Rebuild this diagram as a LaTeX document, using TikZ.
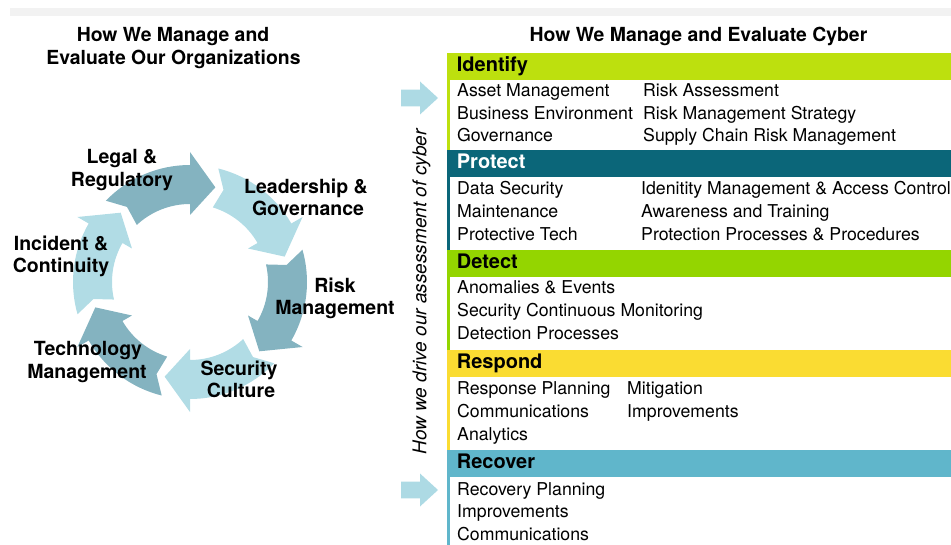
\documentclass[tikz,border=0pt]{standalone}
\usepackage{fontspec}
\setmainfont{TeX Gyre Heros}
\definecolor{ringdark}{HTML}{84B3C0}
\definecolor{ringlight}{HTML}{B1DCE5}
\definecolor{arrowblue}{HTML}{ADDAE4}
\definecolor{cIdentify}{HTML}{BDE00E}
\definecolor{cProtect}{HTML}{0B6679}
\definecolor{cDetect}{HTML}{94D500}
\definecolor{cRespond}{HTML}{FADC32}
\definecolor{cRecover}{HTML}{60B6CB}
\definecolor{bandgray}{HTML}{F2F2F2}
\begin{document}
\begin{tikzpicture}[x=1pt,y=-1pt,
  titletxt/.style={font=\fontsize{19.4}{23}\selectfont\bfseries, anchor=base, inner sep=0},
  ringlbl/.style={font=\fontsize{19.5}{23}\selectfont\bfseries, anchor=base, inner sep=0},
  hdr/.style={font=\fontsize{20}{24}\selectfont\bfseries, anchor=base west, inner sep=0},
  item/.style={font=\fontsize{17.7}{21}\selectfont, anchor=base west, inner sep=0},
  blockarrow/.style={fill=arrowblue}
]
\useasboundingbox (0,0) rectangle (951,545);
\fill[bandgray] (10,8.3) rectangle (951,15.7);

% titles
\node[titletxt] (lt1) at (173,42) {How We Manage and};
\node[titletxt] (lt2) at (173.5,65) {Evaluate Our Organizations};
\node[titletxt] (rt) at (698.5,42) {How We Manage and Evaluate Cyber};

% ring of arrows
\begin{scope}[shift={(190,282)}, yscale=-1]
\foreach \T/\c in {135/ringdark,75/ringlight,15/ringdark,-45/ringlight,-105/ringdark,-165/ringlight}{
  \pgfmathsetmacro\Ta{\T+1}
  \pgfmathsetmacro\Tb{\T-2}
  \pgfmathsetmacro\Tn{\T-5}
  \pgfmathsetmacro\H{\T-45}
  \pgfmathsetmacro\P{\T-60}
  \fill[\c] (\Ta:117) arc[start angle=\Ta, end angle=\H, radius=117] -- (\H:130) -- (\P:98) -- (\H:67) -- (\H:78) arc[start angle=\H, end angle=\Tb, radius=78] -- (\Tn:98) -- cycle;
}
\end{scope}

% ring labels
\node[ringlbl] (legal1) at (122,164) {Legal \&};
\node[ringlbl] (legal2) at (122,187) {Regulatory};
\node[ringlbl] (lead1) at (306,194) {Leadership \&};
\node[ringlbl] (lead2) at (308,216) {Governance};
\node[ringlbl] (risk1) at (335,293) {Risk};
\node[ringlbl] (risk2) at (335,315) {Management};
\node[ringlbl] (sec1) at (239,376) {Security};
\node[ringlbl] (sec2) at (241,398) {Culture};
\node[ringlbl] (tech1) at (88,356) {Technology};
\node[ringlbl] (tech2) at (87,378) {Management};
\node[ringlbl] (inc1) at (61,251) {Incident \&};
\node[ringlbl] (inc2) at (61,273) {Continuity};

% vertical text
\node[rotate=90, font=\fontsize{19}{22}\selectfont\itshape, inner sep=0] (vt) at (421.5,292) {How we drive our assessment of cyber};

% block arrows
\fill[blockarrow] (401,89.7) -- (420,89.7) -- (420,81.5) -- (438,98) -- (420,114.5) -- (420,106.3) -- (401,106.3) -- cycle;
\fill[blockarrow] (401,481.7) -- (420,481.7) -- (420,473.5) -- (438,490) -- (420,506.5) -- (420,498.3) -- (401,498.3) -- cycle;

% section bars and side lines
\fill[cIdentify] (447.3,53.3) rectangle (951,80);
\fill[cIdentify] (447.3,80) rectangle (450,150);
\fill[cProtect] (447.3,150) rectangle (951,176.7);
\fill[cProtect] (447.3,176.7) rectangle (450,250);
\fill[cDetect] (447.3,250) rectangle (951,276.7);
\fill[cDetect] (447.3,276.7) rectangle (450,350);
\fill[cRespond] (447.3,350) rectangle (951,376.7);
\fill[cRespond] (447.3,376.7) rectangle (450,450);
\fill[cRecover] (447.3,450) rectangle (951,476.7);
\fill[cRecover] (447.3,476.7) rectangle (450,545);

% Identify
\node[hdr] (hid) at (456.7,72) {Identify};
\node[item] (id1) at (457,97) {Asset Management};
\node[item] (id2) at (457,119.5) {Business Environment};
\node[item] (id3) at (457,142) {Governance};
\node[item] (id4) at (643,97) {Risk Assessment};
\node[item] (id5) at (643,119.5) {Risk Management Strategy};
\node[item] (id6) at (643,142) {Supply Chain Risk Management};

% Protect
\node[hdr, text=white] (hpr) at (456.7,168.7) {Protect};
\node[item] (pr1) at (457,195) {Data Security};
\node[item] (pr2) at (457,218) {Maintenance};
\node[item] (pr3) at (457,241) {Protective Tech};
\node[item] (pr4) at (641,195) {Idenitity Management \& Access Control};
\node[item] (pr5) at (641,218) {Awareness and Training};
\node[item] (pr6) at (641,241) {Protection Processes \& Procedures};

% Detect
\node[hdr] (hde) at (456.7,268.7) {Detect};
\node[item] (de1) at (457,294) {Anomalies \& Events};
\node[item] (de2) at (457,317) {Security Continuous Monitoring};
\node[item] (de3) at (457,340) {Detection Processes};

% Respond
\node[hdr] (hre) at (456.7,368.5) {Respond};
\node[item] (re1) at (457,395) {Response Planning};
\node[item] (re2) at (457,417.5) {Communications};
\node[item] (re3) at (457,440) {Analytics};
\node[item] (re4) at (627,395) {Mitigation};
\node[item] (re5) at (627,417.5) {Improvements};

% Recover
\node[hdr] (hrc) at (456.7,468.5) {Recover};
\node[item] (rc1) at (457,495) {Recovery Planning};
\node[item] (rc2) at (457,517.5) {Improvements};
\node[item] (rc3) at (457,540) {Communications};
\end{tikzpicture}
\end{document}
